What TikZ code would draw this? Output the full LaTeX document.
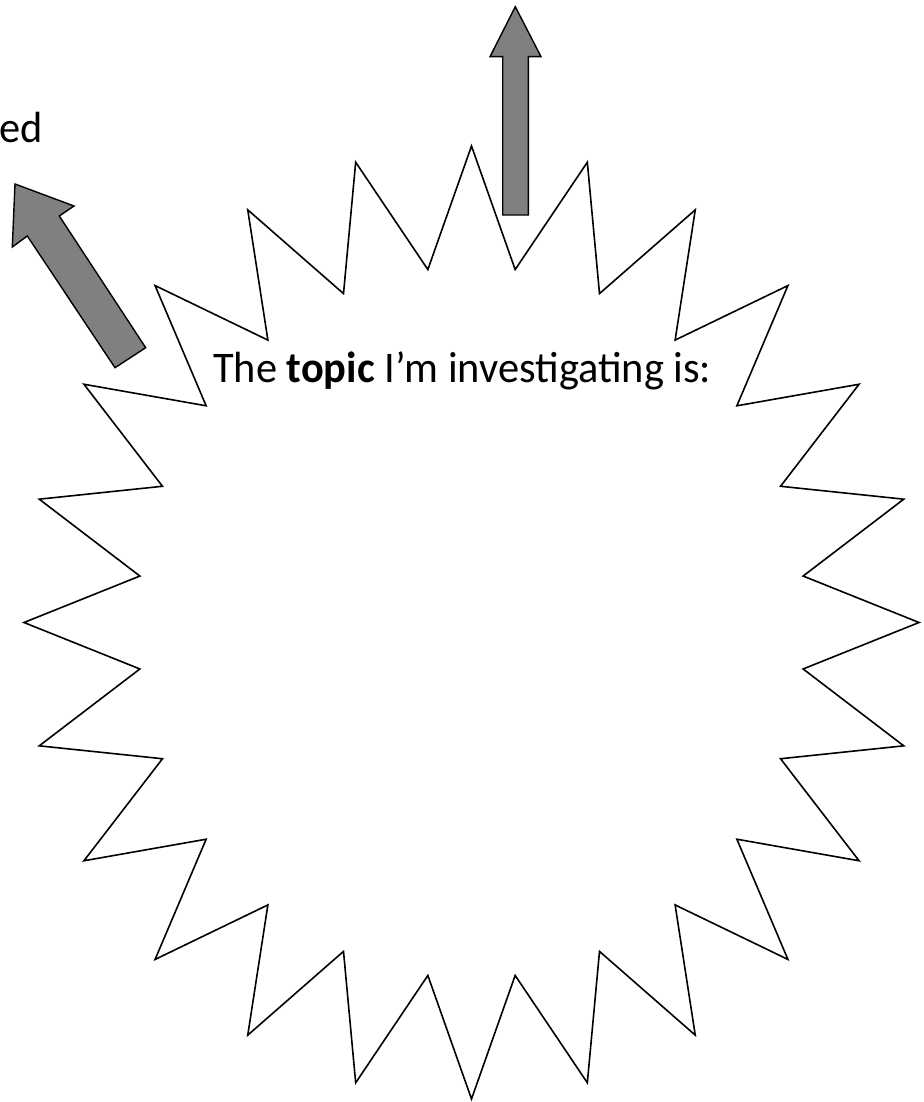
\documentclass[tikz,border=0pt]{standalone}
\usepackage{fontspec}
\setmainfont{Carlito}
\begin{document}
\begin{tikzpicture}[x=1pt,y=-1pt,
  starline/.style={draw=black,line width=1.6pt,line join=miter,fill=white},
  blockarrow/.style={draw=black,line width=1.4pt,fill=black!50,line join=miter},
  lbl/.style={inner sep=0pt,font=\fontsize{42.4}{50}\selectfont}]
\useasboundingbox (0,0) rectangle (923,1102);
\coordinate (c) at (471.5,622.5);
% star burst, 24 points
\draw[starline] (919,622.5)
  \foreach \i in {1,...,47}{
    -- ({471.5+(mod(\i,2)==0 ? 447.5 : 334.5)*cos(\i*7.5)},
        {622.5-(mod(\i,2)==0 ? 476.5 : 356)*sin(\i*7.5)})
  } -- cycle;
% vertical block arrow
\draw[blockarrow] (502.7,215) -- (502.7,56.7) -- (490,56.7) -- (515.3,6.7)
  -- (541,56.7) -- (528.3,56.7) -- (528.3,215) -- cycle;
% diagonal block arrow
\draw[blockarrow] (145.7,347.7) -- (59.3,216) -- (74,206) -- (15,184)
  -- (12.3,247) -- (27.3,236) -- (115,367.7) -- cycle;
\node[lbl,anchor=base west,yscale=1.03] (topic) at (213,382.7) {The \textbf{topic} I’m investigating is:};
\node[lbl,anchor=base west,yscale=1.03] (ed) at (-1,142.7) {ed};
\end{tikzpicture}
\end{document}
